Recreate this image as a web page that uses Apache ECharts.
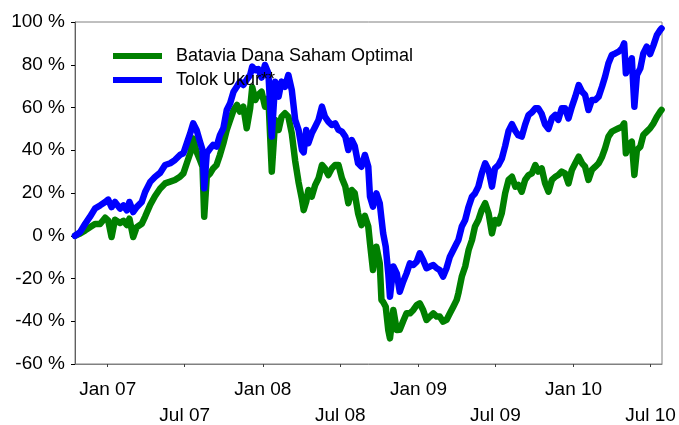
<!DOCTYPE html>
<html><head><meta charset="utf-8">
<script src="https://cdn.jsdelivr.net/npm/echarts@6/dist/echarts.min.js"></script>
<style>html,body{margin:0;padding:0;background:#fff}#c{width:679px;height:425px}</style>
</head><body><div id="c"></div>
<script>
// days since startDate
const startDate = '2006-10-16';
const endDate = '2010-07-28';
const dayOffsets = [0,12,24,35,47,59,71,78,86,94,106,114,122,128,137,145,157,165,177,188,200,
212,224,235,247,255,263,271,278,286,294,300,304,310,318,325,333,341,349,357,365,373,381,388,396,404,412,417,424,431,439,447,
455,463,471,479,486,494,502,510,518,526,534,538,544,549,557,565,573,581,588,596,604,612,620,628,636,643,651,
658,666,674,682,690,694,701,709,717,721,725,731,737,741,749,757,764,772,780,788,796,804,811,819,827,835,843,851,858,866,874,882,890,898,
902,910,918,926,934,941,949,957,965,973,981,988,996,1004,1012,1020,1028,1036,1043,1051,1059,1067,1075,1083,1090,1098,1106,1114,1122,
1130,1137,1145,1153,1161,1169,1177,1185,1193,1200,1208,1216,1224,1232,1240,1247,1255,1263,1271,1279,1287,1292,1296,1302,1310,1316,1322,1330,1337,1345,1353,1361,1369,1377,1380];
const fund = [0,1.0,2.5,4.0,5.5,5.5,8.4,7.2,-0.6,7.5,6.0,7.0,5.0,8.0,-0.6,4.0,5.6,9.0,14.5,18.5,22,
24.5,25.3,26.1,27.6,29.2,33.9,38.6,45.5,39.3,35.4,32.3,8.9,27.6,29.2,31.5,33.1,37.8,43.2,49.5,54.2,58.8,61.2,58.1,60.4,50.3,59.6,69.5,63.5,65.9,67.4,60.4,
64.3,30,54.2,49.5,55.7,57.3,55.7,47.9,35,25,17,12,16,21.4,18.3,23.7,26.9,33.1,31.5,28.4,31.5,33.1,33.1,26.9,23,15.2,21.4,
20,10.5,5,9.3,4.3,-3.5,-16,-5.1,-12.9,-30,-31,-33.2,-44.1,-48,-34.7,-44.1,-44,-40,-36.3,-36.3,-34.7,-32.4,-31.6,-34.7,-39.4,-37.8,-36.3,-37.8,-37.8,-40.2,-39.4,-36.3,-33.2,-30,
-26.9,-19.1,-14.4,-6.7,-2,4.3,7.4,12.1,15.2,10.5,1.1,7.4,5.8,10.5,19.9,26.1,27.6,23,23.8,20.6,26.1,28.4,29.2,33.1,30,31.5,24.5,20.6,26.1,
27.6,28.4,30,29.2,24.5,30.8,33.9,37,33.9,32.3,26.1,30.8,32.3,33.9,37,40.9,46.4,48.7,49.5,50.3,51,52.6,38.6,42.5,44,28.4,40.1,41.7,47.1,48.7,50.3,52.6,55.7,58.1,58.9];
const benchmark = [0,1.7,5.6,8.8,12.7,14.2,15.8,16.9,13.4,15.8,12.7,14.2,11.9,15.8,11.1,13.4,15.8,20.5,25.2,27.5,29.4,
33.1,33.9,35.4,37.8,38.6,43.2,47.9,52.6,49.5,44,40.1,22.2,38.6,40.9,42.5,41.7,47.1,50.3,58.8,62,67.4,69.8,72.1,70.5,73,75.2,79.1,77.5,78,74,79.9,
76,46.4,72.1,65.1,72.1,69.7,75.2,68.2,54.2,49.5,40.1,39,49.5,43.3,47.9,51,54.2,60.4,55.7,53.4,51.8,52.6,49.5,48.7,46.4,40.1,44.8,
42,33.9,32.3,37.8,32.3,18.3,13.6,19.8,15.2,8,1.1,-5.1,-17.6,-28.5,-14.4,-17.6,-26.2,-21.5,-17.6,-12.9,-13.7,-12.1,-8.2,-11.3,-15.2,-14.4,-13.7,-15.2,-16,-19.1,-15.2,-9.8,-6.7,-3.5,
-2,4.3,7.4,13.6,18.3,19.8,23,29.2,33.9,30.8,23,31.5,33,36,42,49,52.2,49,47,46.4,52,56.5,57.7,59.6,59.6,57,52,50,55,
56.5,54.2,59.6,59.6,54.9,60.4,65.1,70.5,67.4,65.9,58.8,63.5,63.5,65.1,69.8,74.4,80.7,84.6,85.3,86.1,87.7,90,76,79.1,83,60.4,75.2,78.3,85.3,88.5,85,89.2,93.9,96.3,97];
const seriesNames = ['Batavia Dana Saham Optimal', 'Tolok Ukur**'];
const tickDates = ['2007-01-01','2007-07-01','2008-01-01','2008-07-01','2009-01-01','2009-07-01','2010-01-01','2010-07-01'];
const tickLabels = ['Jan 07','Jul 07','Jan 08','Jul 08','Jan 09','Jul 09','Jan 10','Jul 10'];
const yMin = -60, yMax = 100, yStep = 20;

const DAY = 86400000;
const ts = s => new Date(s + 'T00:00:00Z').getTime();
const t0 = ts(startDate);
const tickTs = tickDates.map(ts);
const labelOf = {};
tickTs.forEach((t, i) => { labelOf[t] = (i % 2 === 1 ? '\n' : '') + tickLabels[i]; });
const toData = vals => vals.map((v, i) => [t0 + dayOffsets[i] * DAY, v]);

const FONT = 'Liberation Sans, Arial, sans-serif';
const chart = echarts.init(document.getElementById('c'), null, {renderer: 'canvas'});
chart.setOption({
  animation: false,
  backgroundColor: '#fff',
  grid: {left: 75, top: 22, right: 17, bottom: 61, show: true, borderColor: '#808080', borderWidth: 1, outerBoundsMode: 'none', containLabel: false},
  legend: {
    orient: 'vertical', left: 113, top: 47, padding: 0, itemGap: 6,
    itemWidth: 49, itemHeight: 6, icon: 'rect',
    textStyle: {fontFamily: FONT, fontSize: 18, color: '#000', padding: [0, 0, 0, 9]},
    data: seriesNames
  },
  xAxis: {
    type: 'value', min: t0, max: ts(endDate),
    axisLine: {show: true, onZero: false, lineStyle: {color: '#808080', width: 1}},
    axisTick: {show: true, length: 3, lineStyle: {color: '#404040'}, customValues: tickTs},
    axisLabel: {show: true, customValues: tickTs, formatter: v => labelOf[v] || '', fontFamily: FONT, fontSize: 19, color: '#000', margin: 13, lineHeight: 26, hideOverlap: false},
    splitLine: {show: false}
  },
  yAxis: {
    type: 'value', min: yMin, max: yMax, interval: yStep,
    axisLine: {show: true, onZero: false, lineStyle: {color: '#606060', width: 1}},
    axisTick: {show: true, length: 4, lineStyle: {color: '#000'}},
    axisLabel: {formatter: '{value} %', fontFamily: FONT, fontSize: 19, color: '#000', margin: 10},
    splitLine: {show: false}
  },
  series: [
    {name: seriesNames[0], type: 'line', data: toData(fund), showSymbol: false, symbol: 'none', color: '#008000',
     lineStyle: {color: '#008000', width: 6.5, cap: 'round', join: 'round'}},
    {name: seriesNames[1], type: 'line', data: toData(benchmark), showSymbol: false, symbol: 'none', color: '#0000ff',
     lineStyle: {color: '#0000ff', width: 6.5, cap: 'round', join: 'round'}}
  ]
});
</script></body></html>
